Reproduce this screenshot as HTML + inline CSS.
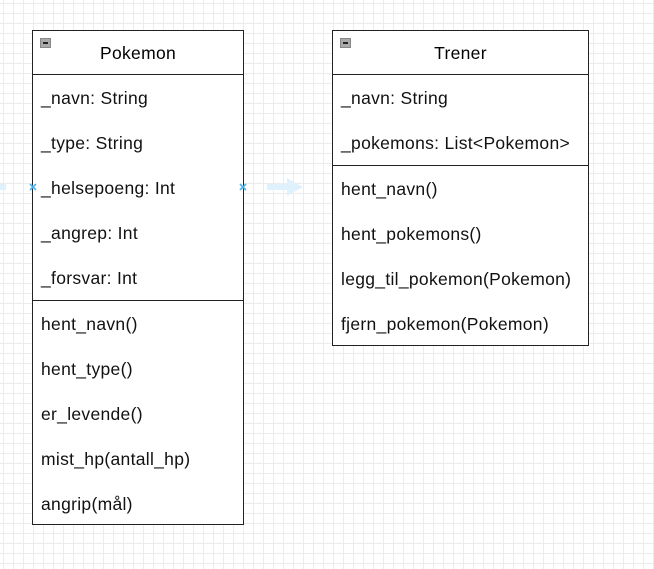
<!DOCTYPE html>
<html><head><style>
body{margin:0;width:654px;height:569px;overflow:hidden;background:#fff;
background-image:linear-gradient(#ececec 1px,transparent 1px),linear-gradient(90deg,#ececec 1px,transparent 1px);
background-size:10px 10px;background-position:3px 3px;font-family:"Liberation Sans",sans-serif;position:relative}
.box{position:absolute;border:1.5px solid #222;background:#fff;box-sizing:border-box}
.hd{height:44px;border-bottom:1.5px solid #222;box-sizing:border-box;text-align:center;line-height:44px;font-size:17.5px;letter-spacing:0.3px;position:relative}
.ic{position:absolute;left:7px;top:7px;width:11px;height:10px;background:#aaa;border:1px solid #888;box-sizing:border-box}
.ic:after{content:"";position:absolute;left:2px;top:3px;width:5px;height:2px;background:#222}
.row{height:45px;line-height:46px;padding-left:8px;font-size:17.5px;letter-spacing:0.3px;color:#111;white-space:nowrap}
.sep{border-top:1.5px solid #222;height:0}
</style></head><body>
<div class="box" style="left:32px;top:30px;width:212px;height:495px">
<div class="hd"><div class="ic"></div>Pokemon</div>
<div class="row">_navn: String</div>
<div class="row">_type: String</div>
<div class="row">_helsepoeng: Int</div>
<div class="row">_angrep: Int</div>
<div class="row">_forsvar: Int</div>
<div class="sep"></div>
<div class="row">hent_navn()</div>
<div class="row">hent_type()</div>
<div class="row">er_levende()</div>
<div class="row">mist_hp(antall_hp)</div>
<div class="row">angrip(mål)</div>
</div>
<div class="box" style="left:332px;top:30px;width:257px;height:316px">
<div class="hd"><div class="ic"></div>Trener</div>
<div class="row">_navn: String</div>
<div class="row">_pokemons: List&lt;Pokemon&gt;</div>
<div class="sep"></div>
<div class="row">hent_navn()</div>
<div class="row">hent_pokemons()</div>
<div class="row">legg_til_pokemon(Pokemon)</div>
<div class="row">fjern_pokemon(Pokemon)</div>
</div>
<svg style="position:absolute;left:0;top:175px" width="320" height="25">
<rect x="0" y="9" width="6" height="6" fill="#dff1fd"/>
<rect x="267" y="9" width="22" height="6" fill="#dff1fd"/>
<polygon points="287,3 303,12 287,21" fill="#dff1fd"/>
<path d="M30,9 l6,6 M36,9 l-6,6 M240,9 l6,6 M246,9 l-6,6" stroke="#4ab3f0" stroke-width="1.6"/>
</svg>
</body></html>
